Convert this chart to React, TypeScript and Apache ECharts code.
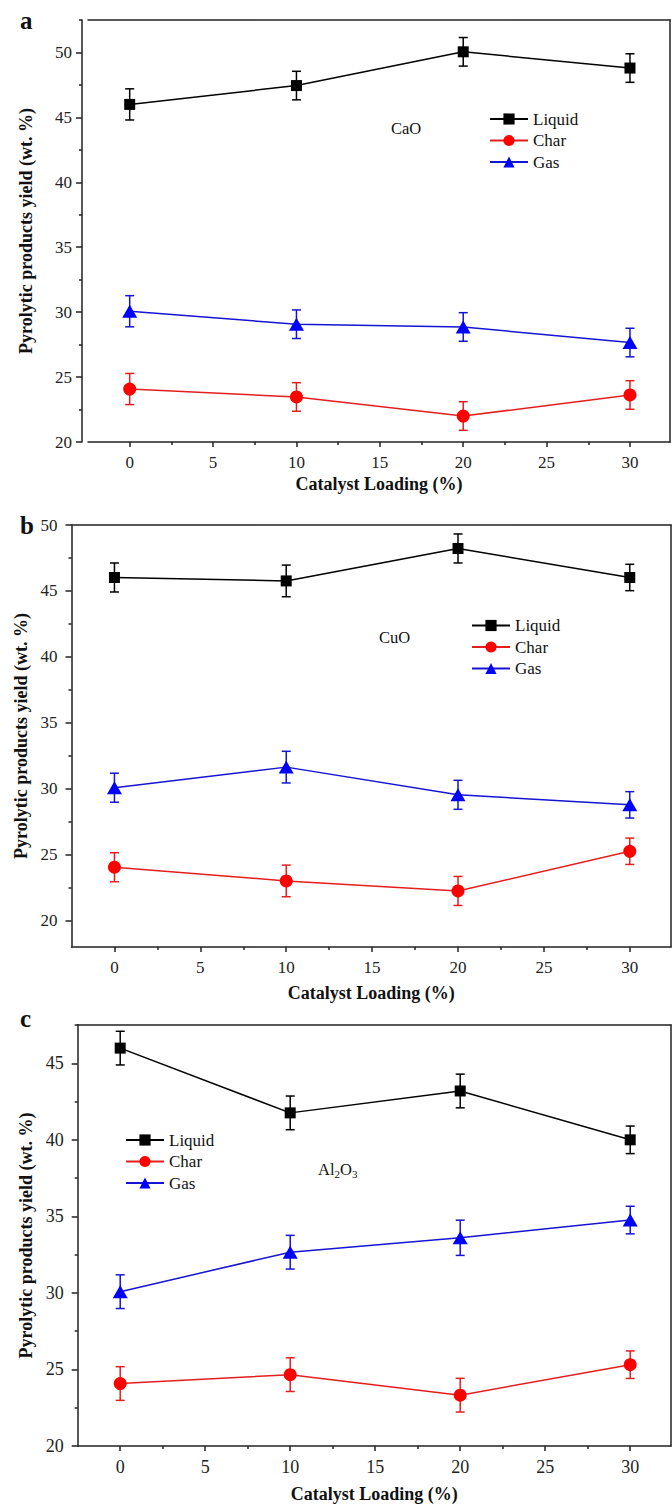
import React, { useEffect, useRef } from "react";
import * as echarts from "echarts";

const SERIF = "Liberation Serif, Times New Roman, serif";

// ---- data ----
const loading = [0, 10, 20, 30];
const seriesNames = ["Liquid", "Char", "Gas"];

const caoLiquid = [46.0, 47.45, 50.05, 48.8];
const caoLiquidErr = [1.2, 1.1, 1.1, 1.1];
const caoChar = [24.08, 23.47, 22.0, 23.62];
const caoCharErr = [1.2, 1.1, 1.1, 1.1];
const caoGas = [30.07, 29.07, 28.86, 27.66];
const caoGasErr = [1.2, 1.1, 1.1, 1.1];

const cuoLiquid = [46.02, 45.76, 48.22, 46.02];
const cuoLiquidErr = [1.1, 1.2, 1.1, 1.0];
const cuoChar = [24.05, 23.01, 22.25, 25.26];
const cuoCharErr = [1.1, 1.2, 1.1, 1.0];
const cuoGas = [30.08, 31.64, 29.54, 28.78];
const cuoGasErr = [1.1, 1.2, 1.1, 1.0];

const alLiquid = [45.99, 41.76, 43.19, 40.0];
const alLiquidErr = [1.1, 1.1, 1.1, 0.9];
const alChar = [24.08, 24.66, 23.32, 25.31];
const alCharErr = [1.1, 1.1, 1.1, 0.9];
const alGas = [30.08, 32.66, 33.6, 34.76];
const alGasErr = [1.1, 1.1, 1.15, 0.9];

const xMajorTicks = [0, 5, 10, 15, 20, 25, 30];
const xMinorTicks = [2.5, 7.5, 12.5, 17.5, 22.5, 27.5];
const yMajorA = [20, 25, 30, 35, 40, 45, 50];
const yMinorA = [22.5, 27.5, 32.5, 37.5, 42.5, 47.5, 52.5];
const yMajorB = [20, 25, 30, 35, 40, 45, 50];
const yMinorB = [22.5, 27.5, 32.5, 37.5, 42.5, 47.5];
const yMajorC = [20, 25, 30, 35, 40, 45];
const yMinorC = [22.5, 27.5, 32.5, 37.5, 42.5, 47.5];

const xTitle = "Catalyst Loading (%)";
const yTitle = "Pyrolytic products yield (wt. %)";

const styles = [
  { symbol: "rect", size: 11, color: "#000000", line: "#000000", err: "#000000" },
  { symbol: "circle", size: 13, color: "#ff0000", line: "#e41e1e", err: "#e41e1e" },
  { symbol: "triangle", size: [15, 13], color: "#0000ff", line: "#1414d2", err: "#1414d2" },
];

const AX = "#222222";

type Panel = {
  grid: any;
  yMin: number;
  yMax: number;
  yOffset: number;
  yMajor: number[];
  yMinor: number[];
  labelSize: number;
  xLabelMargin: number;
  yLabelMargin: number;
  xNameGap: number;
  yNameGap: number;
  values: number[][];
  errs: number[][];
  legend: { left: number; top: number };
};

const panels: Panel[] = [
  {
    grid: { left: 88, top: 20, width: 582, height: 422 },
    yMin: 20, yMax: 52.5, yOffset: 6, yMajor: yMajorA, yMinor: yMinorA,
    labelSize: 17, xLabelMargin: 12, yLabelMargin: 10, xNameGap: 33, yNameGap: 47,
    values: [caoLiquid, caoChar, caoGas], errs: [caoLiquidErr, caoCharErr, caoGasErr],
    legend: { left: 489, top: 110.5 },
  },
  {
    grid: { left: 71.5, top: 525, width: 599.5, height: 422 },
    yMin: 18, yMax: 50, yOffset: 0, yMajor: yMajorB, yMinor: yMinorB,
    labelSize: 17, xLabelMargin: 12, yLabelMargin: 14, xNameGap: 37, yNameGap: 37,
    values: [cuoLiquid, cuoChar, cuoGas], errs: [cuoLiquidErr, cuoCharErr, cuoGasErr],
    legend: { left: 471, top: 617 },
  },
  {
    grid: { left: 77.7, top: 1025, width: 593.3, height: 421.7 },
    yMin: 20, yMax: 47.5, yOffset: 0, yMajor: yMajorC, yMinor: yMinorC,
    labelSize: 18, xLabelMargin: 11.5, yLabelMargin: 14, xNameGap: 39, yNameGap: 43,
    values: [alLiquid, alChar, alGas], errs: [alLiquidErr, alCharErr, alGasErr],
    legend: { left: 125, top: 1131.5 },
  },
];

function buildOption() {
  const grid: any[] = [];
  const xAxis: any[] = [];
  const yAxis: any[] = [];
  const series: any[] = [];
  const legend: any[] = [];
  const lineStyle = { color: AX, width: 1.5 };

  panels.forEach((p, gi) => {
    grid.push({ ...p.grid, containLabel: false });
    const xBase = xAxis.length;
    const yBase = yAxis.length;
    const xCommon = { type: "value", gridIndex: gi, min: -2.5, max: 32.4, splitLine: { show: false } };
    const yCommon = { type: "value", gridIndex: gi, min: p.yMin, max: p.yMax, splitLine: { show: false } };
    xAxis.push({
      ...xCommon,
      position: "bottom",
      axisLine: { show: true, onZero: false, lineStyle },
      axisTick: { show: true, customValues: xMajorTicks, length: 5, inside: false, lineStyle },
      axisLabel: { show: true, customValues: xMajorTicks, margin: p.xLabelMargin, fontSize: p.labelSize, fontFamily: SERIF, color: AX },
      name: xTitle,
      nameLocation: "middle",
      nameGap: p.xNameGap,
      nameTextStyle: { fontSize: 18, fontWeight: "bold", fontFamily: SERIF, color: "#111" },
    });
    xAxis.push({
      ...xCommon,
      position: "bottom",
      axisLine: { show: false, onZero: false },
      axisTick: { show: true, customValues: xMinorTicks, length: 3, inside: false, lineStyle },
      axisLabel: { show: false },
    });
    xAxis.push({
      ...xCommon,
      position: "top",
      axisLine: { show: true, onZero: false, lineStyle },
      axisTick: { show: false },
      axisLabel: { show: false },
    });
    yAxis.push({
      ...yCommon,
      position: "left",
      offset: p.yOffset,
      axisLine: { show: true, onZero: false, lineStyle },
      axisTick: { show: true, customValues: p.yMajor, length: 6, inside: false, lineStyle },
      axisLabel: { show: true, customValues: p.yMajor, margin: p.yLabelMargin, fontSize: p.labelSize, fontFamily: SERIF, color: AX },
      name: yTitle,
      nameLocation: "middle",
      nameGap: p.yNameGap,
      nameTextStyle: { fontSize: 18, fontWeight: "bold", fontFamily: SERIF, color: "#111" },
    });
    yAxis.push({
      ...yCommon,
      position: "left",
      offset: p.yOffset,
      axisLine: { show: false, onZero: false },
      axisTick: { show: true, customValues: p.yMinor, length: 3, inside: false, lineStyle },
      axisLabel: { show: false },
    });
    yAxis.push({
      ...yCommon,
      position: "right",
      axisLine: { show: true, onZero: false, lineStyle },
      axisTick: { show: false },
      axisLabel: { show: false },
    });

    seriesNames.forEach((name, si) => {
      const st = styles[si];
      const vals = p.values[si];
      const errs = p.errs[si];
      series.push({
        type: "custom",
        xAxisIndex: xBase,
        yAxisIndex: yBase,
        z: 2,
        silent: true,
        encode: { x: 0, y: 1 },
        data: loading.map((x, i) => [x, vals[i], errs[i]]),
        renderItem: (params: any, api: any) => {
          const x = api.value(0);
          const y = api.value(1);
          const e = api.value(2);
          const top = api.coord([x, y + e]);
          const bot = api.coord([x, y - e]);
          const hw = 4.5;
          const s = { stroke: st.err, lineWidth: 1.5 };
          return {
            type: "group",
            children: [
              { type: "line", shape: { x1: top[0], y1: top[1], x2: bot[0], y2: bot[1] }, style: s },
              { type: "line", shape: { x1: top[0] - hw, y1: top[1], x2: top[0] + hw, y2: top[1] }, style: s },
              { type: "line", shape: { x1: bot[0] - hw, y1: bot[1], x2: bot[0] + hw, y2: bot[1] }, style: s },
            ],
          };
        },
      });
      series.push({
        type: "line",
        name,
        xAxisIndex: xBase,
        yAxisIndex: yBase,
        z: 3,
        data: loading.map((x, i) => [x, vals[i]]),
        symbol: st.symbol,
        symbolSize: st.size,
        showAllSymbol: true,
        itemStyle: { color: st.color, borderWidth: 0 },
        lineStyle: { color: st.line, width: 1.5 },
      });
    });

    legend.push({
      data: seriesNames,
      orient: "vertical",
      left: p.legend.left,
      top: p.legend.top,
      itemWidth: 38,
      itemHeight: 14,
      itemGap: 4.5,
      padding: 0,
      selectedMode: false,
      textStyle: { fontSize: 17, fontFamily: SERIF, color: "#111", lineHeight: 17 },
    });
  });

  const textBase = { fontFamily: SERIF, fill: "#111" };
  const graphic = [
    { type: "text", x: 20, y: 20, style: { ...textBase, text: "a", fontSize: 25, fontWeight: "bold", textVerticalAlign: "middle", verticalAlign: "middle" } },
    { type: "text", x: 20, y: 525, style: { ...textBase, text: "b", fontSize: 25, fontWeight: "bold", textVerticalAlign: "middle", verticalAlign: "middle" } },
    { type: "text", x: 20, y: 1018.5, style: { ...textBase, text: "c", fontSize: 25, fontWeight: "bold", textVerticalAlign: "middle", verticalAlign: "middle" } },
    { type: "text", x: 391, y: 128, style: { ...textBase, text: "CaO", fontSize: 16.5, textVerticalAlign: "middle", verticalAlign: "middle" } },
    { type: "text", x: 379, y: 637.5, style: { ...textBase, text: "CuO", fontSize: 16.5, textVerticalAlign: "middle", verticalAlign: "middle" } },
    {
      type: "text",
      x: 318,
      y: 1169,
      style: {
        ...textBase,
        text: "{n|Al}{s|2}{n|O}{s|3}",
        textVerticalAlign: "middle",
        verticalAlign: "middle",
        rich: {
          n: { fontSize: 16.5, fontFamily: SERIF, color: "#111", lineHeight: 20 },
          s: { fontSize: 11, fontFamily: SERIF, color: "#111", lineHeight: 20, padding: [9, 0, 0, 0] },
        },
      },
    },
  ];

  return {
    animation: false,
    backgroundColor: "#ffffff",
    textStyle: { fontFamily: SERIF },
    grid,
    xAxis,
    yAxis,
    series,
    legend,
    graphic,
  };
}

export default function App() {
  const ref = useRef<HTMLDivElement>(null);
  useEffect(() => {
    if (!ref.current) return;
    const chart = echarts.init(ref.current, undefined, { renderer: "svg" });
    chart.setOption(buildOption() as any);
    return () => chart.dispose();
  }, []);
  return (
    <div
      ref={ref}
      style={{ position: "absolute", left: 0, top: 0, width: 672, height: 1504, background: "#fff" }}
    />
  );
}
